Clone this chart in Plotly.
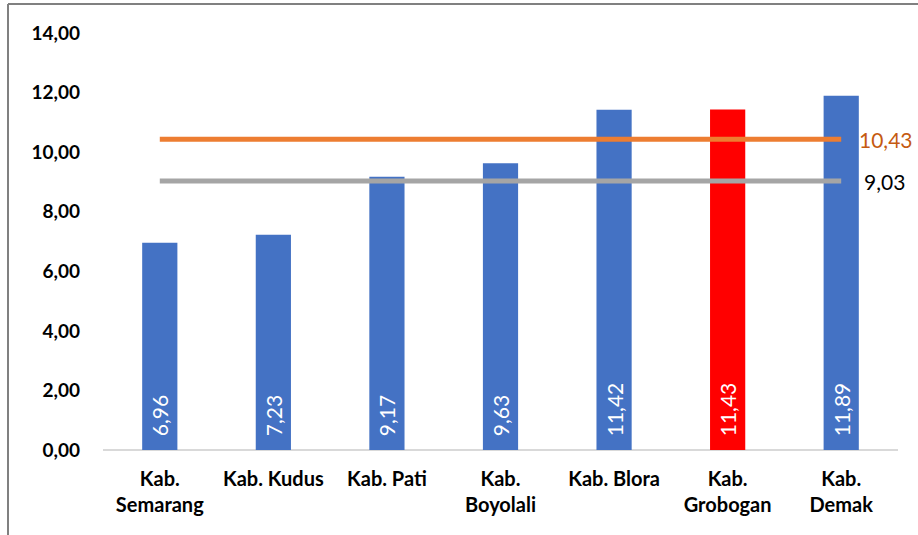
import plotly.graph_objects as go

categories = ["Kab.<br>Semarang", "Kab. Kudus", "Kab. Pati", "Kab.<br>Boyolali",
              "Kab. Blora", "Kab.<br>Grobogan", "Kab.<br>Demak"]
values = [6.96, 7.23, 9.17, 9.63, 11.42, 11.43, 11.89]
bar_colors = ["#4472C4", "#4472C4", "#4472C4", "#4472C4", "#4472C4", "#FF0000", "#4472C4"]
line_orange = 10.43
line_gray = 9.03
y_ticks = [0, 2, 4, 6, 8, 10, 12, 14]

FONT = "Lato"

fig = go.Figure()
fig.add_trace(go.Bar(
    x=categories, y=values,
    marker=dict(color=bar_colors, line=dict(width=0)),
    text=values, texttemplate="\u00a0\u00a0%{y:.2f}",
    textposition="inside", insidetextanchor="start", textangle=-90,
    insidetextfont=dict(family=FONT, size=21, color="white"),
    constraintext="none",
    hoverinfo="skip", showlegend=False,
))
fig.add_trace(go.Scatter(
    x=categories, y=[line_orange] * len(categories), mode="lines",
    line=dict(color="#ED7D31", width=5), showlegend=False, hoverinfo="skip",
))
fig.add_trace(go.Scatter(
    x=categories, y=[line_gray] * len(categories), mode="lines",
    line=dict(color="#A5A5A5", width=5), showlegend=False, hoverinfo="skip",
))

fig.add_annotation(x=1, xref="paper", y=line_orange, yref="y",
                   text=f"{line_orange:.2f}".replace(".", ","), showarrow=False,
                   xanchor="left", xshift=-41, font=dict(family=FONT, size=21, color="#C55A11"))
fig.add_annotation(x=1, xref="paper", y=line_gray, yref="y",
                   text=f"{line_gray:.2f}".replace(".", ","), showarrow=False,
                   xanchor="left", xshift=-36, font=dict(family=FONT, size=21, color="black"))

# chart frame (top and left border)
fig.add_shape(type="line", xref="paper", yref="paper", x0=-0.1195, x1=1.1, y0=1.0695, y1=1.0695,
              line=dict(color="#808080", width=2))
fig.add_shape(type="line", xref="paper", yref="paper", x0=-0.1195, x1=-0.1195, y0=-0.3, y1=1.0695,
              line=dict(color="#808080", width=2))

fig.update_layout(
    width=918, height=535,
    margin=dict(l=103, r=20, t=33, b=85),
    paper_bgcolor="white", plot_bgcolor="white",
    separators=",.",
    bargap=0.69,
    font=dict(family=FONT, color="black"),
    xaxis=dict(showgrid=False, showline=False, ticks="", zeroline=False,
               tickfont=dict(family=FONT, size=20, color="black", weight="bold"),
               ticklabelstandoff=15),
    yaxis=dict(range=[0, 14], tickvals=y_ticks, tickformat=".2f", showgrid=False,
               showline=False, zeroline=True, zerolinecolor="#D9D9D9", zerolinewidth=2,
               tickfont=dict(family=FONT, size=19, color="black", weight="bold"),
               ticklabelstandoff=22),
)

fig.write_html("out.html", config={"displayModeBar": False},
               post_script="document.body.style.margin='0';document.body.style.overflow='hidden';")
